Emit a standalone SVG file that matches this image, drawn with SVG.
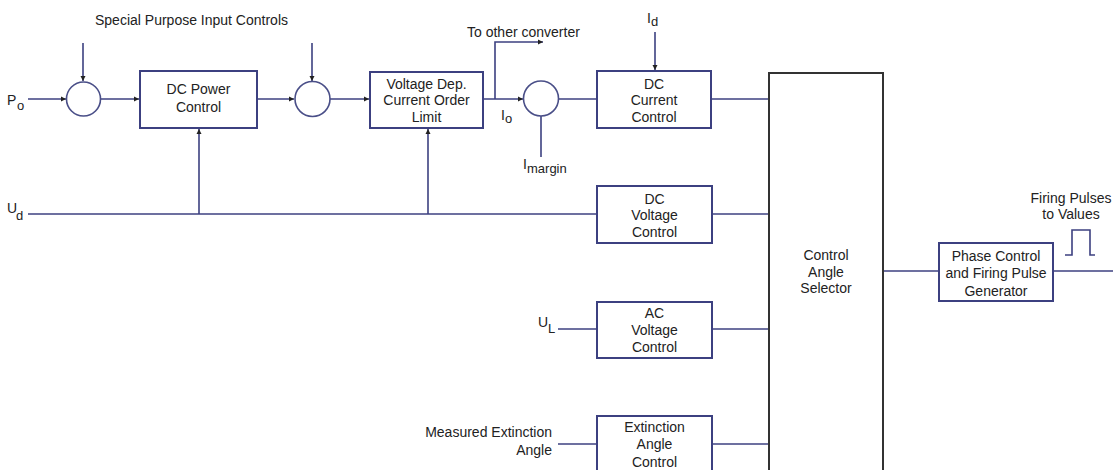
<svg xmlns="http://www.w3.org/2000/svg" width="1113" height="470" viewBox="0 0 1113 470">
<style>
  text{font-family:"Liberation Sans",Arial,sans-serif;font-size:14px;fill:#222}
  .c{text-anchor:middle}
  .r{text-anchor:end}
  .sub{font-size:13px}
  .box{fill:#fff;stroke:#3c4080;stroke-width:2}
  .big{fill:#fff;stroke:#333;stroke-width:2}
  .sum{fill:#fff;stroke:#4a4f88;stroke-width:1.6}
  .ln{fill:none;stroke:#3c4080;stroke-width:1.6}
</style>
<defs>
  <marker id="ah" markerUnits="userSpaceOnUse" markerWidth="6" markerHeight="6" refX="5" refY="3" orient="auto">
    <path d="M0,0.5 L5,3 L0,5.5 Z" fill="#222"/>
  </marker>
</defs>

<g id="connectors">
  <line class="ln" x1="28" y1="99" x2="66" y2="99" marker-end="url(#ah)"/>
  <line class="ln" x1="83" y1="43" x2="83" y2="81" marker-end="url(#ah)"/>
  <line class="ln" x1="100" y1="99" x2="139" y2="99" marker-end="url(#ah)"/>
  <line class="ln" x1="257" y1="99" x2="294" y2="99" marker-end="url(#ah)"/>
  <line class="ln" x1="312" y1="43" x2="312" y2="81" marker-end="url(#ah)"/>
  <line class="ln" x1="330" y1="99" x2="369" y2="99" marker-end="url(#ah)"/>
  <line class="ln" x1="483" y1="99" x2="523" y2="99" marker-end="url(#ah)"/>
  <path class="ln" d="M495,99 V42 H543" marker-end="url(#ah)"/>
  <line class="ln" x1="541" y1="116" x2="541" y2="157"/>
  <line class="ln" x1="559" y1="99" x2="597" y2="99"/>
  <line class="ln" x1="655" y1="32" x2="655" y2="70" marker-end="url(#ah)"/>
  <line class="ln" x1="711" y1="99" x2="769" y2="99"/>
  <line class="ln" x1="28" y1="214" x2="597" y2="214"/>
  <line class="ln" x1="199" y1="214" x2="199" y2="129" marker-end="url(#ah)"/>
  <line class="ln" x1="428" y1="214" x2="428" y2="129" marker-end="url(#ah)"/>
  <line class="ln" x1="712" y1="214" x2="769" y2="214"/>
  <line class="ln" x1="558" y1="329" x2="597" y2="329"/>
  <line class="ln" x1="712" y1="329" x2="769" y2="329"/>
  <line class="ln" x1="558" y1="444" x2="597" y2="444"/>
  <line class="ln" x1="712" y1="444" x2="769" y2="444"/>
  <line class="ln" x1="883" y1="271" x2="939" y2="271"/>
  <line class="ln" x1="1053" y1="271" x2="1113" y2="271"/>
  <path class="ln" d="M1065,255 H1072 V230 H1090 V255 H1095"/>
</g>

<g id="labels">
  <text x="95" y="25">Special Purpose Input Controls</text>
  <text x="7" y="105">P</text><text class="sub" x="17" y="110">o</text>
  <text x="7" y="213">U</text><text class="sub" x="16" y="220">d</text>
  <text x="538" y="327">U</text><text class="sub" x="548" y="333">L</text>
  <text x="647" y="23">I</text><text class="sub" x="651" y="26">d</text>
  <text x="501" y="120">I</text><text class="sub" x="505" y="123">o</text>
  <text x="523" y="169">I</text><text class="sub" x="527" y="173">margin</text>
  <text x="467" y="37">To other converter</text>
  <text class="r" x="552" y="437">Measured Extinction</text>
  <text class="r" x="552" y="455">Angle</text>
  <text class="c" x="1071" y="203">Firing Pulses</text>
  <text class="c" x="1071" y="219">to Values</text>
</g>

<g id="sum1"><circle class="sum" cx="83.5" cy="99" r="17"/></g>
<g id="sum2"><circle class="sum" cx="312.5" cy="99" r="17.5"/></g>
<g id="sum3"><circle class="sum" cx="541" cy="98.5" r="17.5"/></g>

<g id="dc-power-control">
  <rect class="box" x="140" y="71" width="117" height="57"/>
  <text class="c" x="198.5" y="94">DC Power</text>
  <text class="c" x="198.5" y="112">Control</text>
</g>
<g id="voltage-dep-current-order-limit">
  <rect class="box" x="370" y="72" width="113" height="56"/>
  <text class="c" x="426.5" y="89">Voltage Dep.</text>
  <text class="c" x="426.5" y="105">Current Order</text>
  <text class="c" x="426.5" y="122">Limit</text>
</g>
<g id="dc-current-control">
  <rect class="box" x="597" y="71" width="114" height="57"/>
  <text class="c" x="654" y="89">DC</text>
  <text class="c" x="654" y="105">Current</text>
  <text class="c" x="654" y="122">Control</text>
</g>
<g id="dc-voltage-control">
  <rect class="box" x="597" y="186" width="115" height="57"/>
  <text class="c" x="654.5" y="204">DC</text>
  <text class="c" x="654.5" y="220">Voltage</text>
  <text class="c" x="654.5" y="237">Control</text>
</g>
<g id="ac-voltage-control">
  <rect class="box" x="597" y="302" width="115" height="56"/>
  <text class="c" x="654.5" y="318">AC</text>
  <text class="c" x="654.5" y="335">Voltage</text>
  <text class="c" x="654.5" y="352">Control</text>
</g>
<g id="extinction-angle-control">
  <rect class="box" x="597" y="416" width="115" height="70"/>
  <text class="c" x="654.5" y="432">Extinction</text>
  <text class="c" x="654.5" y="449">Angle</text>
  <text class="c" x="654.5" y="467">Control</text>
</g>
<g id="control-angle-selector">
  <rect class="big" x="769" y="73" width="114" height="420"/>
  <text class="c" x="826" y="260">Control</text>
  <text class="c" x="826" y="277">Angle</text>
  <text class="c" x="826" y="293">Selector</text>
</g>
<g id="phase-control">
  <rect class="box" x="939" y="243" width="114" height="58"/>
  <text class="c" x="996" y="261">Phase Control</text>
  <text class="c" x="996" y="278">and Firing Pulse</text>
  <text class="c" x="996" y="296">Generator</text>
</g>
</svg>
